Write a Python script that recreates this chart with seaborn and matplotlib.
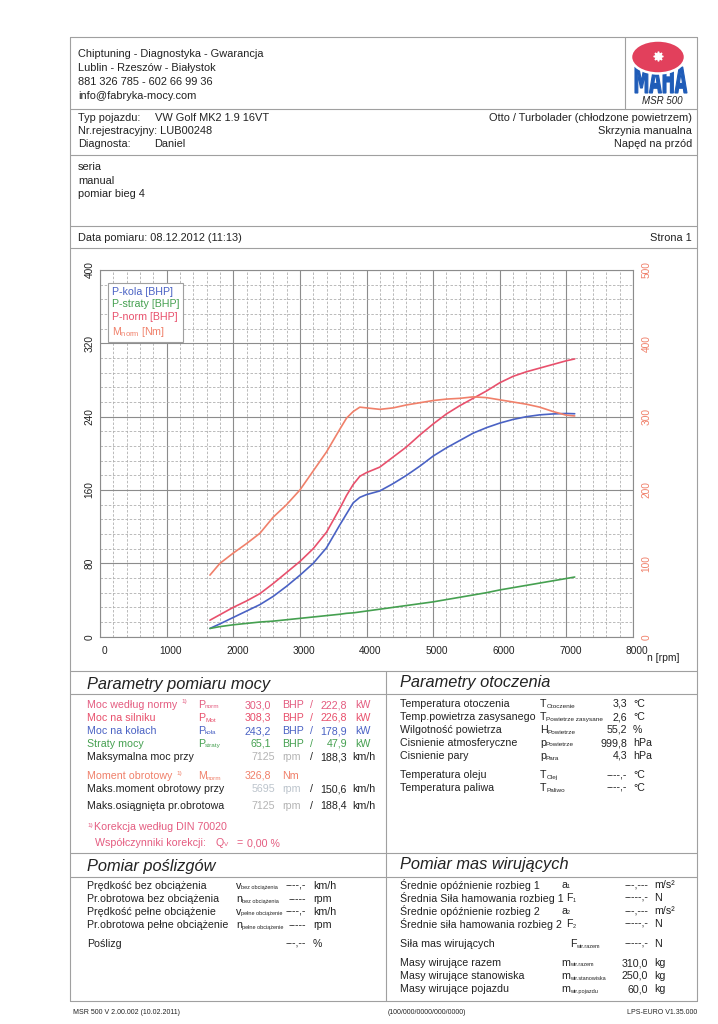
import numpy as np
import pandas as pd
import seaborn as sns
import matplotlib.pyplot as plt
from matplotlib.patches import Ellipse, PathPatch
from matplotlib.textpath import TextPath
from matplotlib.font_manager import FontProperties
from matplotlib.transforms import Affine2D, ScaledTranslation
from matplotlib.lines import Line2D
from matplotlib.ticker import MultipleLocator

sns.set_theme(style='white')
plt.rcParams['font.family'] = ['Liberation Sans', 'DejaVu Sans']
plt.rcParams['mathtext.fontset'] = 'custom'
plt.rcParams['mathtext.rm'] = 'Liberation Sans'
plt.rcParams['mathtext.it'] = 'Liberation Sans:italic'

# dyno readings (rpm -> value)
rpm = [1650, 1800, 2000, 2200, 2400, 2600, 2800, 3000, 3200, 3400, 3600, 3700, 3800, 3900, 4000,
       4200, 4400, 4600, 4800, 5000, 5200, 5400, 5600, 5800, 6000, 6200, 6400, 6600, 6800, 7000, 7125]
p_kola = [9, 14, 21, 28, 35, 44, 55, 67, 80, 97, 122, 134, 146, 152, 155,
          159, 167, 176, 186, 197, 206, 214, 222, 228, 233, 237, 240, 242, 243, 243.5, 243.2]
p_straty = [9, 11, 13, 14.5, 16, 17, 18.5, 20, 21.5, 23, 24.5, 25.5, 26, 27, 28,
            30, 32, 34, 36, 38, 40.5, 43, 45.5, 48, 51, 53.5, 56, 58.5, 61, 63.5, 65.1]
p_norm = [18, 24, 32, 39, 47, 58, 70, 82, 96, 114, 140, 154, 166, 175, 179,
          185, 196, 207, 220, 232, 243, 252, 260, 268, 277, 284, 289, 293, 297, 301, 303]
m_norm = [84, 100, 114, 127, 141, 163, 180, 200, 226, 252, 283, 298, 307, 313, 312,
          310, 312, 316, 319, 322, 324, 325, 327, 326, 323, 320, 317, 313, 307, 302, 301]

x_ticks = [0, 1000, 2000, 3000, 4000, 5000, 6000, 7000, 8000]
y_left_ticks = [0, 80, 160, 240, 320, 400]
y_right_ticks = [0, 100, 200, 300, 400, 500]

c_blue = '#4a62c4'
c_green = '#45a050'
c_red = '#e8506c'
c_orange = '#f0806a'
c_pink = '#e45c80'
c_text = '#222222'
c_gray = '#b4b4b4'
c_line = '#a0a0a0'

power = pd.DataFrame({
    'rpm': rpm * 3,
    'value': p_kola + p_straty + p_norm,
    'series': ['P-kola [BHP]'] * len(rpm) + ['P-straty [BHP]'] * len(rpm) + ['P-norm [BHP]'] * len(rpm),
})
torque = pd.DataFrame({'rpm': rpm, 'value': m_norm})

fig = plt.figure(figsize=(7.18, 10.24), dpi=100, facecolor='white')

# page layer in pixel coordinates
page = fig.add_axes([0, 0, 1, 1], zorder=0)
page.set_xlim(0, 718)
page.set_ylim(1024, 0)
page.axis('off')


def hline(y, x0=70, x1=697):
    page.plot([x0, x1], [y, y], color=c_line, lw=0.8)


def vline(x, y0, y1):
    page.plot([x, x], [y0, y1], color=c_line, lw=0.8)


def txt(x, y, s, size=7.7, color=c_text, ha='left', **kw):
    return page.text(x, y, s, fontsize=size, color=color, ha=ha, va='center', **kw)


def sym(x, y, main, sub, color=c_text, size=7.7, subsize=4.6):
    t = txt(x, y, main, size=size, color=color)
    page.annotate(sub, xy=(1, 0.05), xycoords=t, fontsize=subsize, color=color,
                  ha='left', va='bottom')
    return t


# frame lines
for y in [37, 109, 155, 226, 248, 671, 694, 853, 877, 1001]:
    hline(y)
vline(70, 37, 1001)
vline(697, 37, 1001)
vline(625, 37, 109)
vline(386, 671, 1001)

# header
hs = 7.9
for i, s in enumerate(['Chiptuning - Diagnostyka - Gwarancja', 'Lublin - Rzeszów - Białystok',
                       '881 326 785 - 602 66 99 36', 'info@fabryka-mocy.com']):
    txt(78, 54 + 14 * i, s, size=hs)

# MAHA logo
tp = TextPath((0, 0), 'MAHA', size=1, prop=FontProperties(family='DejaVu Sans', weight='bold'))
bb = tp.get_extents()
tr = Affine2D().translate(-bb.x0, -bb.y0).scale(52 / bb.width, -26 / bb.height).translate(635, 93)
page.add_patch(PathPatch(tp, transform=tr + page.transData, facecolor='#1f5cb8',
                         edgecolor='#1f5cb8', lw=0.8))
page.add_patch(Ellipse((658, 57), 54, 33, facecolor='#e2405c', edgecolor='white', lw=1.8))
page.plot(658, 56, marker=(8, 1, 0), color='white', markersize=7)
txt(662, 101, 'MSR 500', size=7, ha='center', style='italic')

txt(78, 118, 'Typ pojazdu:', size=hs)
txt(155, 118, 'VW Golf MK2 1.9 16VT', size=hs)
txt(78, 131, 'Nr.rejestracyjny: LUB00248', size=hs)
txt(78, 144, 'Diagnosta:', size=hs)
txt(154, 144, 'Daniel', size=hs)
txt(692, 118, 'Otto / Turbolader (chłodzone powietrzem)', size=hs, ha='right')
txt(692, 131, 'Skrzynia manualna', size=hs, ha='right')
txt(692, 144, 'Napęd na przód', size=hs, ha='right')

txt(78, 167, 'seria', size=hs)
txt(78, 180.5, 'manual', size=hs)
txt(78, 194, 'pomiar bieg 4', size=hs)

txt(78, 238, 'Data pomiaru: 08.12.2012 (11:13)', size=hs)
txt(692, 238, 'Strona 1', size=hs, ha='right')

# chart
ax = fig.add_axes([100 / 718, 1 - 636.7 / 1024, 533 / 718, 366.7 / 1024], zorder=2)
ax.set_facecolor('none')
sns.lineplot(data=power, x='rpm', y='value', hue='series', ax=ax, legend=False, lw=1.2,
             palette={'P-kola [BHP]': c_blue, 'P-straty [BHP]': c_green, 'P-norm [BHP]': c_red})
ax.set_xlim(0, 8000)
ax.set_ylim(0, 400)
ax.set_xticks(x_ticks)
ax.set_yticks(y_left_ticks)
ax.xaxis.set_minor_locator(MultipleLocator(200))
ax.yaxis.set_minor_locator(MultipleLocator(16))
ax.grid(which='major', color='#8c8c8c', lw=0.8, ls='-')
ax.grid(which='minor', color='#b0b0b0', lw=0.6, ls=(0, (3, 2)))
ax.set_axisbelow(True)
ax.set_xlabel('')
ax.set_ylabel('')
ax.tick_params(axis='both', which='both', length=0)
ax.tick_params(axis='x', labelsize=7.3, pad=7, labelcolor=c_text)
ax.tick_params(axis='y', labelsize=7.3, pad=4, labelrotation=90, labelcolor=c_text)
for lab in ax.get_yticklabels():
    lab.set_va('center')
for lab in ax.get_xticklabels():
    lab.set_transform(lab.get_transform() + ScaledTranslation(4 / 100, 0, fig.dpi_scale_trans))
for sp in ax.spines.values():
    sp.set_color('#8c8c8c')
    sp.set_linewidth(0.8)

ax2 = ax.twinx()
sns.lineplot(data=torque, x='rpm', y='value', ax=ax2, color=c_orange, lw=1.2)
ax2.set_ylim(0, 500)
ax2.set_yticks(y_right_ticks)
ax2.set_ylabel('')
ax2.tick_params(axis='y', length=0, labelsize=7.3, pad=6, labelrotation=90, labelcolor=c_orange)
for lab in ax2.get_yticklabels():
    lab.set_va('center')
for sp in ax2.spines.values():
    sp.set_visible(False)

handles = [Line2D([], [], color='none') for _ in range(4)]
leg = ax2.legend(handles, ['P-kola [BHP]', 'P-straty [BHP]', 'P-norm [BHP]', r'M$_{\rm norm}$ [Nm]'],
                 loc='upper left', bbox_to_anchor=(0.015, 0.965), borderaxespad=0,
                 handlelength=0, handletextpad=0, fontsize=7.7, labelspacing=0.25,
                 frameon=True, fancybox=False, framealpha=1, edgecolor='#a0a0a0', borderpad=0.35)
leg.get_frame().set_linewidth(0.8)
for t, c in zip(leg.get_texts(), [c_blue, c_green, c_red, c_orange]):
    t.set_color(c)

txt(647, 658, 'n [rpm]', size=7.5)

# Parametry pomiaru mocy
txt(87, 684, 'Parametry pomiaru mocy', size=11.8, style='italic')
power_rows = [
    (705, 'Moc według normy', '1)', c_pink, 'norm', '303,0', '222,8'),
    (718, 'Moc na silniku', '', c_red, 'Mot', '308,3', '226,8'),
    (731, 'Moc na kołach', '', c_blue, 'koła', '243,2', '178,9'),
    (744, 'Straty mocy', '', c_green, 'straty', '65,1', '47,9'),
]
for y, lab, sup, c, sub, v1, v2 in power_rows:
    t = txt(87, y, lab, color=c)
    if sup:
        page.annotate(sup, xy=(1, 0.55), xycoords=t, xytext=(3, 0), textcoords='offset points',
                      fontsize=4.6, color=c, va='bottom')
    sym(198, y, 'P', sub, color=c)
    txt(271, y, v1, color=c, ha='right')
    txt(282, y, 'BHP', color=c)
    txt(310, y, '/', color=c)
    txt(347, y, v2, color=c, ha='right')
    txt(355, y, 'kW', color=c)

speed_rows = [
    (757, 'Maksymalna moc przy', '7125', '188,3', c_gray),
    (789, 'Maks.moment obrotowy przy', '5695', '150,6', '#bcc4cc'),
    (806, 'Maks.osiągnięta pr.obrotowa', '7125', '188,4', c_gray),
]
for y, lab, n, v, c in speed_rows:
    txt(87, y, lab)
    txt(275, y, n, color=c, ha='right')
    txt(282, y, 'rpm', color=c)
    txt(310, y, '/')
    txt(347, y, v, ha='right')
    txt(352, y, 'km/h')

t = txt(87, 776, 'Moment obrotowy', color=c_orange)
page.annotate('1)', xy=(1, 0.55), xycoords=t, xytext=(3, 0), textcoords='offset points',
              fontsize=4.6, color=c_orange, va='bottom')
sym(198, 776, 'M', 'norm', color=c_orange)
txt(271, 776, '326,8', color=c_orange, ha='right')
txt(282, 776, 'Nm', color=c_orange)

txt(87, 826, '1)', size=4.6, color=c_pink)
txt(94, 827, 'Korekcja według DIN 70020', color=c_pink)
txt(95, 843, 'Współczynniki korekcji:', color=c_pink)
sym(216, 843, 'Q', 'V', color=c_pink)
txt(236, 843, '=', color=c_pink)
txt(247, 843, '0,00 %', color=c_pink)

# Parametry otoczenia
txt(400, 683, 'Parametry otoczenia', size=11.8, style='italic')
env_rows = [
    (704, 'Temperatura otoczenia', 'T', 'Otoczenie', '3,3', '°C'),
    (717, 'Temp.powietrza zasysanego', 'T', 'Powietrze zasysane', '2,6', '°C'),
    (730, 'Wilgotność powietrza', 'H', 'Powietrze', '55,2', '%'),
    (743, 'Cisnienie atmosferyczne', 'p', 'Powietrze', '999,8', 'hPa'),
    (756, 'Cisnienie pary', 'p', 'Para', '4,3', 'hPa'),
    (775, 'Temperatura oleju', 'T', 'Olej', '----,-', '°C'),
    (788, 'Temperatura paliwa', 'T', 'Paliwo', '----,-', '°C'),
]
for y, lab, m, sub, v, u in env_rows:
    txt(400, y, lab)
    sym(540, y, m, sub)
    txt(627, y, v, ha='right')
    txt(633, y, u)

# Pomiar poślizgów
txt(87, 867, 'Pomiar poślizgów', size=11.8, style='italic')
slip_rows = [
    (886, 'Prędkość bez obciążenia', 'v', 'bez obciążenia', '----,-', 'km/h'),
    (899, 'Pr.obrotowa bez obciążenia', 'n', 'bez obciążenia', '-----', 'rpm'),
    (912, 'Prędkość pełne obciążenie', 'v', 'pełne obciążenie', '----,-', 'km/h'),
    (925, 'Pr.obrotowa pełne obciążenie', 'n', 'pełne obciążenie', '-----', 'rpm'),
    (944, 'Poślizg', '', '', '---,--', '%'),
]
for y, lab, m, sub, v, u in slip_rows:
    txt(87, y, lab)
    if m:
        sym(236, y, m, sub, subsize=4.0)
    txt(306, y, v, ha='right')
    txt(313, y, u)

# Pomiar mas wirujących
txt(400, 865, 'Pomiar mas wirujących', size=11.8, style='italic')
mass_rows = [
    (885, 'Średnie opóźnienie rozbieg 1', 'a', '1', '---,---', 'm/s²'),
    (898, 'Średnia Siła hamowania rozbieg 1', 'F', '1', '-----,-', 'N'),
    (911, 'Średnie opóźnienie rozbieg 2', 'a', '2', '---,---', 'm/s²'),
    (924, 'Średnie siła hamowania rozbieg 2', 'F', '2', '-----,-', 'N'),
    (944, 'Siła mas wirujących', 'F', 'wir.razem', '-----,-', 'N'),
    (963, 'Masy wirujące razem', 'm', 'wir.razem', '310,0', 'kg'),
    (976, 'Masy wirujące stanowiska', 'm', 'wir.stanowiska', '250,0', 'kg'),
    (989, 'Masy wirujące pojazdu', 'm', 'wir.pojazdu', '60,0', 'kg'),
]
for y, lab, m, sub, v, u in mass_rows:
    txt(400, y, lab)
    if m == 'F' and sub == 'wir.razem':
        sx = 570
    elif m == 'F':
        sx = 566
    else:
        sx = 561
    sym(sx, y, m, sub, subsize=4.0)
    txt(648, y, v, ha='right')
    txt(654, y, u)

# footer
txt(73, 1013, 'MSR 500 V 2.00.002 (10.02.2011)', size=5)
txt(388, 1013, '(100/000/0000/000/0000)', size=5)
txt(697, 1013, 'LPS-EURO V1.35.000', size=5, ha='right')

fig.savefig('out.png', dpi=100, facecolor='white')
